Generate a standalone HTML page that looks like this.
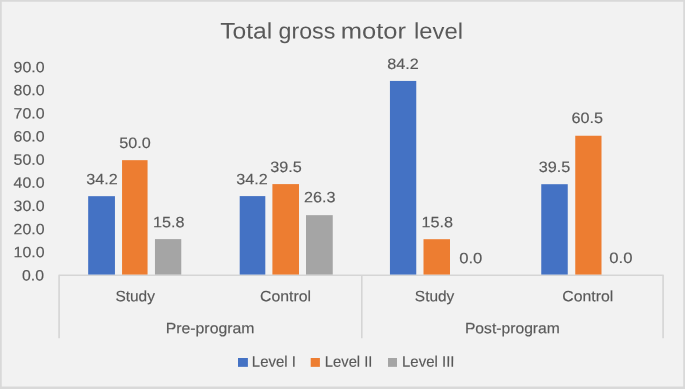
<!DOCTYPE html>
<html lang="en">
<head>
<meta charset="utf-8">
<title>Total gross motor level</title>
<style>
html,body{margin:0;padding:0;background:#F2F2F2;}
body{width:685px;height:389px;overflow:hidden;}
.chart{position:absolute;left:0;top:0;width:685px;height:389px;box-sizing:border-box;background:#F2F2F2;}
svg{position:absolute;left:0;top:0;display:block;}
svg text{font-family:"Liberation Sans",sans-serif;fill:#595959;stroke:#595959;stroke-width:0.15px;}
</style>
</head>
<body>
<div class="chart"></div>
<svg width="685" height="389" viewBox="0 0 685 389">
<path fill="#D9D9D9" fill-rule="evenodd" d="M0 0H685V389H0ZM1.75 1.85V386.55H683.2V1.85Z"/>
<g stroke="#D5D5D5" stroke-width="1.6" fill="none">
<path stroke-linejoin="round" d="M59.1 338.2V275.2H663.1V338.2"/>
<path d="M361.8 275.2V338.2"/>
</g>
<rect x="88.17" y="196.17" width="26.78" height="78.38" fill="#4472C4"/>
<text x="101.90" y="184.25" font-size="15.0" text-anchor="middle" textLength="31.5" lengthAdjust="spacingAndGlyphs" transform="rotate(0.05 101.90 184.25)">34.2</text>
<rect x="122.05" y="160.17" width="25.51" height="114.38" fill="#ED7D31"/>
<text x="135.05" y="147.90" font-size="15.0" text-anchor="middle" textLength="31.5" lengthAdjust="spacingAndGlyphs" transform="rotate(0.05 135.05 147.90)">50.0</text>
<rect x="154.97" y="239.10" width="26.28" height="35.45" fill="#A5A5A5"/>
<text x="168.65" y="227.25" font-size="15.0" text-anchor="middle" textLength="31.5" lengthAdjust="spacingAndGlyphs" transform="rotate(0.05 168.65 227.25)">15.8</text>
<rect x="239.70" y="196.10" width="25.60" height="78.45" fill="#4472C4"/>
<text x="252.05" y="184.30" font-size="15.0" text-anchor="middle" textLength="31.5" lengthAdjust="spacingAndGlyphs" transform="rotate(0.05 252.05 184.30)">34.2</text>
<rect x="272.40" y="184.10" width="26.60" height="90.45" fill="#ED7D31"/>
<text x="285.90" y="171.90" font-size="15.0" text-anchor="middle" textLength="31.5" lengthAdjust="spacingAndGlyphs" transform="rotate(0.05 285.90 171.90)">39.5</text>
<rect x="306.00" y="215.16" width="26.75" height="59.39" fill="#A5A5A5"/>
<text x="319.65" y="202.30" font-size="15.0" text-anchor="middle" textLength="31.5" lengthAdjust="spacingAndGlyphs" transform="rotate(0.05 319.65 202.30)">26.3</text>
<rect x="389.94" y="80.94" width="26.31" height="193.61" fill="#4472C4"/>
<text x="403.05" y="69.10" font-size="15.0" text-anchor="middle" textLength="31.5" lengthAdjust="spacingAndGlyphs" transform="rotate(0.05 403.05 69.10)">84.2</text>
<rect x="423.50" y="239.20" width="26.50" height="35.35" fill="#ED7D31"/>
<text x="437.15" y="227.30" font-size="15.0" text-anchor="middle" textLength="31.5" lengthAdjust="spacingAndGlyphs" transform="rotate(0.05 437.15 227.30)">15.8</text>
<text x="470.75" y="263.20" font-size="15.0" text-anchor="middle" textLength="23.2" lengthAdjust="spacingAndGlyphs" transform="rotate(0.05 470.75 263.20)">0.0</text>
<rect x="541.25" y="184.20" width="26.50" height="90.35" fill="#4472C4"/>
<text x="554.45" y="172.00" font-size="15.0" text-anchor="middle" textLength="31.5" lengthAdjust="spacingAndGlyphs" transform="rotate(0.05 554.45 172.00)">39.5</text>
<rect x="575.25" y="135.75" width="26.25" height="138.80" fill="#ED7D31"/>
<text x="587.25" y="123.00" font-size="15.0" text-anchor="middle" textLength="31.5" lengthAdjust="spacingAndGlyphs" transform="rotate(0.05 587.25 123.00)">60.5</text>
<text x="620.90" y="263.10" font-size="15.0" text-anchor="middle" textLength="23.2" lengthAdjust="spacingAndGlyphs" transform="rotate(0.05 620.90 263.10)">0.0</text>
<text x="44.00" y="280.45" font-size="15.0" text-anchor="end" textLength="22.0" lengthAdjust="spacingAndGlyphs" transform="rotate(0.05 44.00 280.45)">0.0</text>
<text x="44.60" y="257.31" font-size="15.0" text-anchor="end" textLength="31.0" lengthAdjust="spacingAndGlyphs" transform="rotate(0.05 44.60 257.31)">10.0</text>
<text x="44.60" y="234.17" font-size="15.0" text-anchor="end" textLength="31.0" lengthAdjust="spacingAndGlyphs" transform="rotate(0.05 44.60 234.17)">20.0</text>
<text x="44.60" y="211.03" font-size="15.0" text-anchor="end" textLength="31.0" lengthAdjust="spacingAndGlyphs" transform="rotate(0.05 44.60 211.03)">30.0</text>
<text x="44.60" y="187.89" font-size="15.0" text-anchor="end" textLength="31.0" lengthAdjust="spacingAndGlyphs" transform="rotate(0.05 44.60 187.89)">40.0</text>
<text x="44.60" y="164.75" font-size="15.0" text-anchor="end" textLength="31.0" lengthAdjust="spacingAndGlyphs" transform="rotate(0.05 44.60 164.75)">50.0</text>
<text x="44.60" y="141.61" font-size="15.0" text-anchor="end" textLength="31.0" lengthAdjust="spacingAndGlyphs" transform="rotate(0.05 44.60 141.61)">60.0</text>
<text x="44.60" y="118.47" font-size="15.0" text-anchor="end" textLength="31.0" lengthAdjust="spacingAndGlyphs" transform="rotate(0.05 44.60 118.47)">70.0</text>
<text x="44.60" y="95.33" font-size="15.0" text-anchor="end" textLength="31.0" lengthAdjust="spacingAndGlyphs" transform="rotate(0.05 44.60 95.33)">80.0</text>
<text x="44.60" y="72.19" font-size="15.0" text-anchor="end" textLength="31.0" lengthAdjust="spacingAndGlyphs" transform="rotate(0.05 44.60 72.19)">90.0</text>
<text x="135.20" y="301.20" font-size="15.0" text-anchor="middle" textLength="39.5" lengthAdjust="spacingAndGlyphs" transform="rotate(0.05 135.20 301.20)">Study</text>
<text x="285.60" y="301.20" font-size="15.0" text-anchor="middle" textLength="51.0" lengthAdjust="spacingAndGlyphs" transform="rotate(0.05 285.60 301.20)">Control</text>
<text x="434.60" y="301.20" font-size="15.0" text-anchor="middle" textLength="39.5" lengthAdjust="spacingAndGlyphs" transform="rotate(0.05 434.60 301.20)">Study</text>
<text x="587.80" y="301.20" font-size="15.0" text-anchor="middle" textLength="51.0" lengthAdjust="spacingAndGlyphs" transform="rotate(0.05 587.80 301.20)">Control</text>
<text x="210.10" y="333.20" font-size="15.0" text-anchor="middle" textLength="88.8" lengthAdjust="spacingAndGlyphs" transform="rotate(0.05 210.10 333.20)">Pre-program</text>
<text x="512.40" y="333.20" font-size="15.0" text-anchor="middle" textLength="95.0" lengthAdjust="spacingAndGlyphs" transform="rotate(0.05 512.40 333.20)">Post-program</text>
<text y="38.55" font-size="22.4" text-anchor="start" style="stroke:none" transform="rotate(0.05 341 38.55)"><tspan x="220.25" textLength="52.00" lengthAdjust="spacingAndGlyphs">Total</tspan> <tspan x="278.50" textLength="56.75" lengthAdjust="spacingAndGlyphs">gross</tspan> <tspan x="340.75" textLength="65.25" lengthAdjust="spacingAndGlyphs">motor</tspan> <tspan x="414.00" textLength="49.00" lengthAdjust="spacingAndGlyphs">level</tspan></text>
<rect x="238.0" y="358" width="9.9" height="8.85" fill="#4472C4"/>
<text x="251.85" y="366.80" font-size="15.3" text-anchor="start" textLength="44.0" lengthAdjust="spacingAndGlyphs" transform="rotate(0.05 251.85 366.80)">Level I</text>
<rect x="310.7" y="358" width="9.2" height="8.85" fill="#ED7D31"/>
<text x="324.85" y="366.80" font-size="15.3" text-anchor="start" textLength="47.6" lengthAdjust="spacingAndGlyphs" transform="rotate(0.05 324.85 366.80)">Level II</text>
<rect x="388.0" y="358" width="9.0" height="8.85" fill="#A5A5A5"/>
<text x="402.05" y="366.80" font-size="15.3" text-anchor="start" textLength="52.4" lengthAdjust="spacingAndGlyphs" transform="rotate(0.05 402.05 366.80)">Level III</text>
</svg>
</body>
</html>
